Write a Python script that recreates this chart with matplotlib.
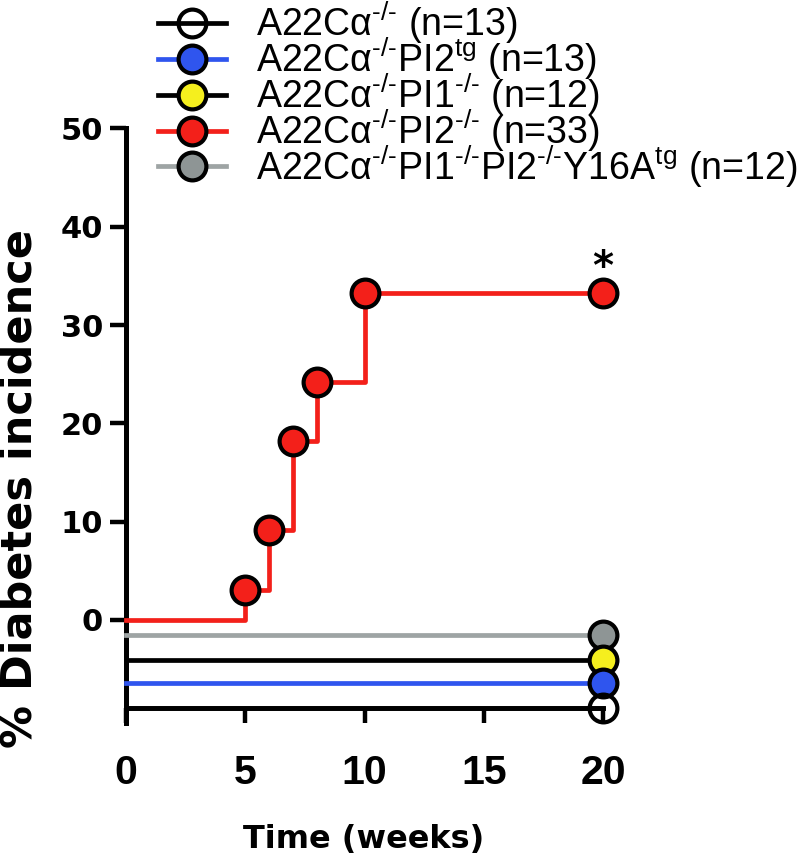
import matplotlib

matplotlib.use("Agg")
import matplotlib.pyplot as plt

# --- data ---------------------------------------------------------------
KO = "$^{\\mathregular{\u2010/\u2010}}$"   # superscript -/-
TG = "$^{\\mathregular{tg}}$"              # superscript tg
groups = [
    "A22C\u03b1" + KO + " (n=13)",
    "A22C\u03b1" + KO + "PI2" + TG + " (n=13)",
    "A22C\u03b1" + KO + "PI1" + KO + " (n=12)",
    "A22C\u03b1" + KO + "PI2" + KO + " (n=33)",
    "A22C\u03b1" + KO + "PI1" + KO + "PI2" + KO + "Y16A" + TG + " (n=12)",
]
# PI2-/- group: weeks at which incidence steps up, and % incidence
pi2_weeks = [0, 5, 6, 7, 8, 10, 20]
pi2_incidence = [0, 3.0, 9.1, 18.2, 24.2, 33.3, 33.3]
# all other groups stay at 0 %; plotted offset below the axis (Prism style)
flat_weeks = [0, 20]
flat_display = [-8.95, -6.4, -4.1, None, -1.5]

x_ticks = [0, 5, 10, 15, 20]
y_ticks = [0, 10, 20, 30, 40, 50]

# --- styles -------------------------------------------------------------
line_colors = ["black", "#2f55ee", "black", "#f3201a", "#9ea4a4"]
face_colors = ["none", "#2f55ee", "#f5ef1e", "#f3201a", "#8e9595"]
LW = 3.4
MS = 20
MEW = 3.0

plt.rcParams["font.family"] = ["Liberation Sans", "DejaVu Sans"]
plt.rcParams["mathtext.fontset"] = "custom"
plt.rcParams["mathtext.rm"] = "Liberation Sans"
plt.rcParams["mathtext.it"] = "Liberation Sans"

fig = plt.figure(figsize=(8.1, 8.64), dpi=100)
ax = fig.add_axes([0.1556, 0.1632, 0.6185, 0.6881])

handles = []
for i, lab in enumerate(groups):
    if flat_display[i] is None:
        h, = ax.plot(pi2_weeks, pi2_incidence, drawstyle="steps-post",
                     color=line_colors[i], lw=LW, marker="o", ms=MS,
                     mfc=face_colors[i], mec="black", mew=MEW,
                     markevery=list(range(1, len(pi2_weeks))),
                     clip_on=False, zorder=5, label=lab)
    else:
        yv = [flat_display[i]] * len(flat_weeks)
        h, = ax.plot(flat_weeks, yv, color=line_colors[i], lw=LW,
                     marker="o", ms=MS, mfc=face_colors[i], mec="black",
                     mew=MEW, markevery=[len(flat_weeks) - 1],
                     clip_on=False, zorder=4 - i * 0.1 + 0.5, label=lab)
    handles.append(h)

ax.text(20, 33.8, "*", ha="center", va="bottom", fontsize=29,
        fontweight="bold", family="DejaVu Sans")

ax.set_xlim(0, 21)
ax.set_ylim(-10.5, 50)
ax.set_xticks(x_ticks)
ax.set_yticks(y_ticks)

for s in ("top", "right"):
    ax.spines[s].set_visible(False)
ax.spines["left"].set_linewidth(3.6)
ax.spines["left"].set_bounds(-10.5, 50)
ax.spines["bottom"].set_position(("data", -8.95))
ax.spines["bottom"].set_bounds(0, 20)
ax.spines["bottom"].set_linewidth(LW)

ax.tick_params(axis="y", length=11.5, width=3.2, pad=5, labelsize=22)
ax.tick_params(axis="x", length=11, width=3.2, pad=22, labelsize=29.5)
for t in ax.get_yticklabels():
    t.set_fontweight("bold")
    t.set_family("DejaVu Sans")
for t in ax.get_xticklabels():
    t.set_fontweight("bold")

fig.text(364 / 810, 1 - 848 / 864, "Time (weeks)", ha="center",
         va="baseline", fontsize=23, fontweight="bold", family="DejaVu Sans")
fig.text(20 / 810, 1 - 488 / 864, "% Diabetes incidence", rotation=90,
         ha="center", va="center", fontsize=31, fontweight="bold",
         family="DejaVu Sans")

fig.legend(handles=handles, loc="upper left",
           bbox_to_anchor=(158 / 810, 1.0), frameon=False, fontsize=27,
           handlelength=1.8, handletextpad=0.8, labelspacing=-0.28,
           borderpad=0, borderaxespad=0)

fig.savefig("out.png", dpi=100)
